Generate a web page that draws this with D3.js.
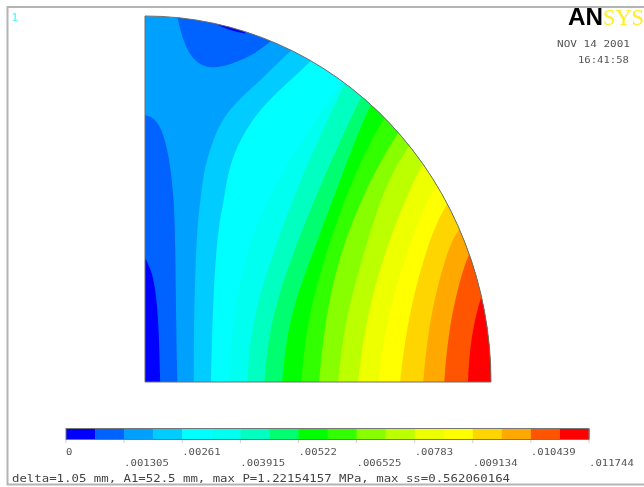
<!DOCTYPE html>
<html>
<head>
<meta charset="utf-8">
<script src="https://cdn.jsdelivr.net/npm/d3@7"></script>
<style>
	html, body { margin: 0; padding: 0; background: white; }
	text { font-family: "DejaVu Sans Mono", monospace; }
</style>
</head>
<body>
<div id="PlotContainer"></div>
<script>
// contour levels of the plot
const levelValues = [0, .001305, .00261, .003915, .00522, .006525, .00783, .009134, .010439, .011744];
const levelLabels = ["0", ".001305", ".00261", ".003915", ".00522", ".006525", ".00783", ".009134", ".010439", ".011744"];
const bandColors = ["#0000ff", "#0062ff", "#00a0ff", "#00ccff", "#00ffff", "#00fff0", "#00ffc0", "#00ff70", "#00ff00",
	"#33ff00", "#88ff00", "#bbff00", "#eeff00", "#ffff00", "#ffd500", "#ffa800", "#ff5500", "#ff0000"];

const radius = 52.5; // A1, mm

// boundaries between bands, [x mm, y mm]
const lowLeft0 = [[0, 17.8], [1.1, 15.8], [1.7, 12.5], [2.1, 7.7], [2.3, 0]];
const lowTop0 = [[10.6, 51.4], [12.9, 50.4], [15.2, 50.0]];
const lowLeft1 = [[0, 38.3], [1.5, 37.9], [2.7, 35.9], [3.6, 32.6], [4.4, 26.8], [4.6, 19.7], [4.7, 10.0], [4.9, 0]];
const lowTop1 = [[4.9, 52.4], [5.8, 48.8], [7.1, 46.5], [8.6, 45.3], [10.9, 45.0], [14.0, 45.9], [17.0, 47.3], [19.0, 48.8], [19.9, 49.6]];

const line2 = [[7.4, 0], [7.4, 7.7], [7.6, 14.9], [7.9, 22.1], [8.5, 26.8], [9.0, 30.7], [10.2, 34.4], [11.8, 37.9], [14.4, 40.7], [17.9, 43.6], [21.5, 47.0], [22.3, 47.6]];
const line3 = [[10.0, 0], [10.2, 7.7], [10.5, 14.9], [11.1, 22.1], [12.1, 26.8], [12.6, 30.1], [14.0, 34.0], [16.4, 37.9], [20.0, 41.6], [24.3, 45.2], [25.3, 46.2]];
const line4 = [[12.7, 0], [13.3, 8.9], [15.0, 18.2], [20.0, 29.5], [30.3, 43.6]];
const line5 = [[15.5, 0], [16.2, 8.9], [19.3, 18.2], [23.5, 29.0], [29.9, 42.2], [31.1, 43.9]];
const line6 = [[18.1, 0], [19.0, 8.9], [22.3, 18.2], [26.9, 29.0], [32.6, 40.7], [33.5, 41.9]];
const line7 = [[20.8, 0], [21.7, 8.9], [25.3, 18.2], [29.6, 29.0], [33.8, 39.3], [35.0, 40.7]];
const line8 = [[23.7, 0], [24.6, 8.9], [27.3, 18.2], [31.3, 29.0], [36.1, 37.9], [37.5, 39.3]];
const line9 = [[26.4, 0], [27.3, 8.9], [29.6, 18.9], [34.1, 29.0], [37.9, 35.1], [39.1, 36.6]];
const line10 = [[29.3, 0], [30.3, 8.9], [33.1, 18.2], [36.4, 28.3], [39.8, 33.6], [41.1, 35.1]];
const line11 = [[32.3, 0], [33.5, 8.9], [36.4, 18.9], [39.5, 26.1], [41.7, 30.8], [43.2, 32.8]];
const line12 = [[35.4, 0], [36.6, 8.9], [39.8, 18.9], [42.5, 25.4], [44.5, 29.0], [45.8, 30.4]];
const line13 = [[38.7, 0], [39.8, 8.9], [42.8, 19.7], [45.2, 24.7], [47.0, 27.1]];
const line14 = [[42.2, 0], [43.1, 8.9], [45.8, 18.9], [47.5, 21.8], [48.7, 23.2]];
const line15 = [[45.4, 0], [46.1, 8.2], [48.6, 17.8], [50.5, 20.4]];
const line16 = [[49.0, 0], [49.3, 5.6], [50.8, 12.0], [52.0, 14.6]];

const upperLines = [line2, line3, line4, line5, line6, line7, line8, line9, line10, line11, line12, line13, line14, line15, line16];

const noteDate = "NOV 14 2001";
const noteTime = "16:41:58";
const noteBottom = "delta=1.05 mm, A1=52.5 mm, max P=1.22154157 MPa, max ss=0.562060164";

const width = 644;
const height = 487;

const svg = d3.select("#PlotContainer")
	.append("svg")
	.attr("width", width)
	.attr("height", height)
	.style("display", "block");

const defs = svg.append("defs");
// the source is a soft scan, everything gets a small blur
defs.append("filter").attr("id", "soft")
	.attr("filterUnits", "userSpaceOnUse")
	.attr("x", 0).attr("y", 0).attr("width", width).attr("height", height)
	.append("feGaussianBlur").attr("stdDeviation", 0.55);

const x = d3.scaleLinear().domain([0, radius]).range([145, 491]);
const y = d3.scaleLinear().domain([0, radius]).range([382, 16]);

const shape = "M" + x(0) + "," + y(0) + "L" + x(radius) + "," + y(0)
	+ "A" + (x(radius) - x(0)) + "," + (y(0) - y(radius)) + " 0 0 0 " + x(0) + "," + y(radius) + "Z";

defs.append("clipPath").attr("id", "quarter").append("path").attr("d", shape);

const page = svg.append("g").attr("filter", "url(#soft)");

// frame
page.append("path")
	.attr("d", "M" + width + ",7H7.5V484.5H" + width)
	.attr("fill", "none")
	.attr("stroke", "#b4b4b4")
	.attr("stroke-width", 2);

// contour bands
const bands = page.append("g").attr("clip-path", "url(#quarter)");
const curve = d3.line().x(function(d) { return x(d[0]); }).y(function(d) { return y(d[1]); }).curve(d3.curveBasis);
const far = function(p) { return "L" + x(p[0]) + "," + y(p[1]); };

bands.append("path").attr("d", shape).attr("fill", bandColors[2]);

// low value pockets, closed around the outside of the quarter
bands.append("path").attr("d", curve(lowLeft1) + far([-5, 0]) + far([-5, 38.3]) + "Z").attr("fill", bandColors[1]);
bands.append("path").attr("d", curve(lowTop1) + far([20, 60]) + far([5, 60]) + "Z").attr("fill", bandColors[1]);
bands.append("path").attr("d", curve(lowLeft0) + far([-5, 0]) + far([-5, 17.8]) + "Z").attr("fill", bandColors[0]);
bands.append("path").attr("d", curve(lowTop0) + far([15, 60]) + far([10, 60]) + "Z").attr("fill", bandColors[0]);

bands.selectAll("path.upper")
	.data(upperLines)
	.enter()
	.append("path")
	.attr("class", "upper")
	.attr("d", function(d) { return curve(d) + far([70, 70]) + far([70, -2]) + far([d[0][0], -2]) + "Z"; })
	.attr("fill", function(d, i) { return bandColors[i + 3]; });

page.append("path")
	.attr("d", shape)
	.attr("fill", "none")
	.attr("stroke", "#6e6e6e")
	.attr("stroke-width", 1);

// legend
const legend = d3.scaleLinear().domain([levelValues[0], levelValues[levelValues.length - 1]]).range([66, 589]);
const swatch = d3.scaleBand().domain(d3.range(bandColors.length)).range([66, 589]);

page.selectAll("rect.swatch")
	.data(bandColors)
	.enter()
	.append("rect")
	.attr("class", "swatch")
	.attr("x", function(d, i) { return swatch(i); })
	.attr("y", 429)
	.attr("width", swatch.bandwidth() + 0.5)
	.attr("height", 10)
	.attr("fill", function(d) { return d; });

page.append("rect")
	.attr("x", 66).attr("y", 428.5).attr("width", 523).attr("height", 11)
	.attr("fill", "none").attr("stroke", "#777").attr("stroke-width", 1);

page.selectAll("line.tick")
	.data(levelValues)
	.enter()
	.append("line")
	.attr("class", "tick")
	.attr("x1", function(d) { return legend(d); })
	.attr("x2", function(d) { return legend(d); })
	.attr("y1", 440).attr("y2", 443)
	.attr("stroke", "#ccc");

page.selectAll("text.level")
	.data(levelLabels)
	.enter()
	.append("text")
	.attr("class", "level")
	.text(function(d) { return d; })
	.attr("x", function(d, i) { return legend(levelValues[i]); })
	.attr("y", function(d, i) { return i % 2 == 0 ? 455 : 466; })
	.attr("textLength", function(d) { return d.length * 6.4; })
	.attr("lengthAdjust", "spacingAndGlyphs")
	.attr("font-size", "9px")
	.attr("fill", "#555");

page.append("text")
	.text(noteBottom)
	.attr("x", 12).attr("y", 482)
	.attr("textLength", 498)
	.attr("lengthAdjust", "spacingAndGlyphs")
	.attr("font-size", "10px")
	.attr("fill", "#444");

// top corner notes
page.append("text").text("1")
	.attr("x", 12).attr("y", 21)
	.attr("font-size", "10px").attr("font-weight", "bold").attr("fill", "#55ffff");

page.append("text").text(noteDate)
	.attr("x", 557).attr("y", 47)
	.attr("textLength", 73).attr("lengthAdjust", "spacingAndGlyphs")
	.attr("font-size", "9px").attr("fill", "#555");

page.append("text").text(noteTime)
	.attr("x", 578).attr("y", 63)
	.attr("textLength", 51).attr("lengthAdjust", "spacingAndGlyphs")
	.attr("font-size", "9px").attr("fill", "#555");

// logo
page.append("text").text("AN")
	.attr("x", 568).attr("y", 25)
	.attr("textLength", 35).attr("lengthAdjust", "spacingAndGlyphs")
	.style("font-family", "'Liberation Sans'")
	.attr("font-size", "24px").attr("font-weight", "bold").attr("fill", "#000");

page.append("text").text("SYS")
	.attr("x", 603).attr("y", 25)
	.attr("textLength", 41).attr("lengthAdjust", "spacingAndGlyphs")
	.style("font-family", "'Liberation Serif'")
	.attr("font-size", "23px").attr("fill", "#ffee22");
</script>
</body>
</html>
